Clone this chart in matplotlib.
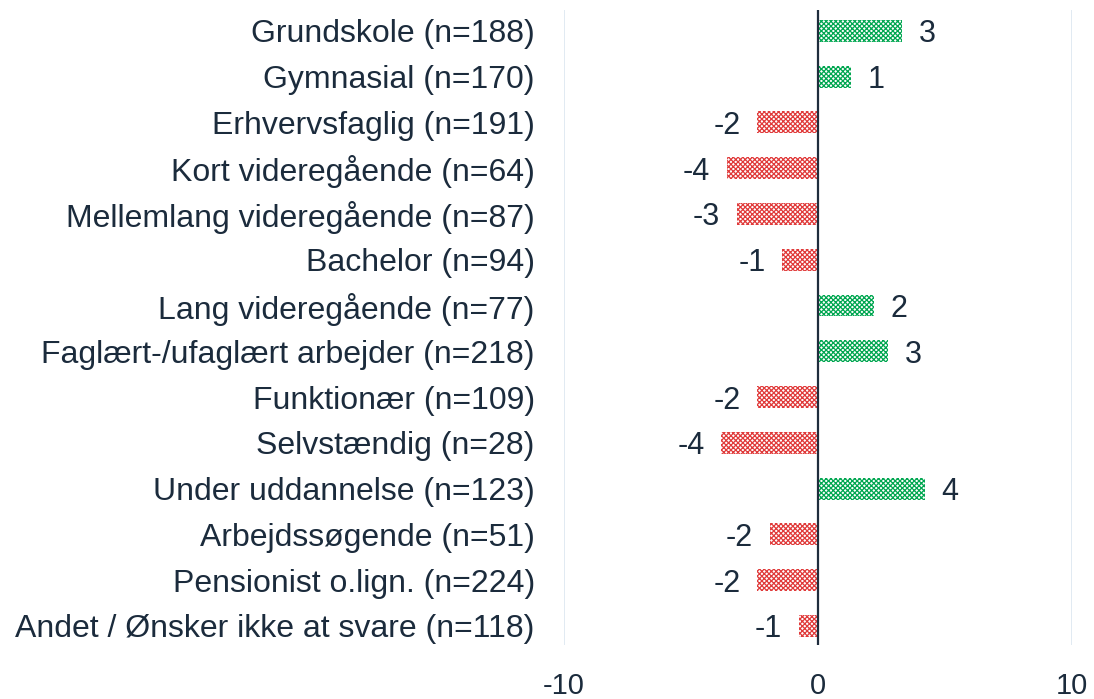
import matplotlib.pyplot as plt
import numpy as np

plt.rcParams['font.family'] = ['Liberation Sans', 'DejaVu Sans']
plt.rcParams['hatch.linewidth'] = 0.9

categories = ['Grundskole (n=188)', 'Gymnasial (n=170)', 'Erhvervsfaglig (n=191)',
              'Kort videregående (n=64)', 'Mellemlang videregående (n=87)',
              'Bachelor (n=94)', 'Lang videregående (n=77)',
              'Faglært-/ufaglært arbejder (n=218)', 'Funktionær (n=109)',
              'Selvstændig (n=28)', 'Under uddannelse (n=123)',
              'Arbejdssøgende (n=51)', 'Pensionist o.lign. (n=224)',
              'Andet / Ønsker ikke at svare (n=118)']
values = [3.3, 1.3, -2.4, -3.6, -3.2, -1.4, 2.2, 2.75, -2.4, -3.8, 4.2, -1.9, -2.4, -0.75]
xticks = [-10, 0, 10]

green = '#00A650'
red = '#E03A3A'
txt = '#1B2B3C'

fig = plt.figure(figsize=(10.94, 6.99), dpi=100)
ax = fig.add_axes([0.5155, 0.077, 0.4645, 0.909])

y = np.arange(len(categories))
for yi, v in zip(y, values):
    c = green if v > 0 else red
    ax.barh(yi, v, height=0.48, color='white', edgecolor=c, hatch='x' * 7, linewidth=0)
    ax.annotate(f'{v:.0f}', (v, yi), xytext=(12 if v > 0 else -12, 0),
                textcoords='offset points', ha='left' if v > 0 else 'right',
                va='center_baseline', fontsize=22, color=txt)

for xv in (-10, 10):
    ax.axvline(xv, color='#DCE6F0', lw=1.2, zorder=0)
ax.axvline(0, color='#1F2D3D', lw=1.6, zorder=3)

ax.set_xlim(-10, 10)
ax.set_ylim(13.42, -0.46)
ax.set_xticks(xticks)
ax.set_xticklabels([str(t) for t in xticks])
ax.set_yticks(y)
ax.set_yticklabels(categories)
ax.tick_params(axis='both', length=0, labelcolor=txt)
ax.tick_params(axis='y', pad=21, labelsize=23)
ax.tick_params(axis='x', pad=19, labelsize=21)
for s in ax.spines.values():
    s.set_visible(False)

fig.savefig('out.png', dpi=100)
